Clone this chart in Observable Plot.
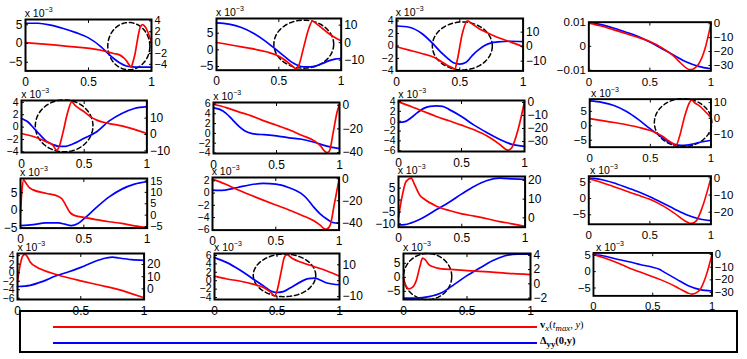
<!DOCTYPE html>
<html><head><meta charset="utf-8">
<script src="https://cdn.jsdelivr.net/npm/d3@7"></script>
<script src="https://cdn.jsdelivr.net/npm/@observablehq/plot@0.6"></script>
<style>
body{margin:0;background:#fff;}
#wrap{position:relative;width:747px;height:359px;overflow:hidden;background:#fff;font-family:"Liberation Sans",Arial,sans-serif;}
.fig{position:absolute;}
.exp{position:absolute;font-size:10.5px;line-height:1;white-space:nowrap;color:#000;}
.exp sup{font-size:7px;vertical-align:5px;}
#legend{position:absolute;left:19px;top:310px;width:715px;height:39px;border:2px solid #000;font-family:"Liberation Serif","Times New Roman",serif;font-size:10.5px;}
.sw{position:absolute;height:2px;}
.lt{position:absolute;line-height:1;white-space:nowrap;}
</style></head>
<body><div id="wrap"><div id="legend"></div></div>
<script>
// ---- data (blue: left axis, ×10^-3 ; red: right axis) ----
const blueX = [
 [0,0.1,0.2,0.3,0.4,0.5,0.6,0.65,0.7,0.75,0.8,0.85,0.9,1],
 [0,0.1,0.2,0.3,0.4,0.5,0.55,0.6,0.65,0.7,0.75,0.8,0.85,0.9,0.95,1],
 [0,0.1,0.2,0.3,0.35,0.4,0.45,0.5,0.55,0.6,0.65,0.7,0.75,0.8,0.9,1],
 [0,0.1,0.2,0.3,0.4,0.5,0.6,0.7,0.8,0.9,1],
 [0,0.05,0.1,0.15,0.2,0.25,0.3,0.35,0.4,0.5,0.6,0.7,0.8,0.9,1],
 [0,0.05,0.1,0.15,0.2,0.25,0.3,0.35,0.4,0.5,0.6,0.7,0.8,0.9,1],
 [0,0.05,0.1,0.15,0.2,0.25,0.3,0.35,0.4,0.5,0.6,0.7,0.8,0.9,1],
 [0,0.1,0.2,0.3,0.4,0.5,0.55,0.6,0.65,0.7,0.75,0.8,0.85,0.9,1],
 [0,0.1,0.2,0.3,0.35,0.4,0.45,0.5,0.6,0.7,0.8,0.9,1],
 [0,0.05,0.1,0.2,0.3,0.4,0.5,0.6,0.7,0.75,0.8,0.85,0.9,0.95,1],
 [0,0.05,0.1,0.2,0.3,0.4,0.5,0.6,0.7,0.8,0.9,1],
 [0,0.1,0.2,0.3,0.4,0.5,0.6,0.7,0.8,0.9,1],
 [0,0.1,0.2,0.3,0.4,0.5,0.6,0.7,0.75,0.8,0.9,1],
 [0,0.1,0.2,0.3,0.4,0.45,0.5,0.55,0.6,0.7,0.75,0.8,0.85,0.9,1],
 [0,0.1,0.2,0.3,0.4,0.5,0.6,0.7,0.8,0.9,1],
 [0,0.1,0.2,0.3,0.4,0.5,0.55,0.6,0.7,0.8,0.9,1]
];
const blueV = [
 [5.4,5.4,4.9,4.0,2.9,1.5,-0.9,-2.5,-4.0,-5.2,-6.0,-6.25,-6.3,-6.3],
 [8.1,7.7,6.7,4.9,2.4,-0.6,-2.1,-3.6,-4.6,-5.1,-5.1,-4.8,-4.1,-3.3,-2.8,-2.6],
 [3.2,3.0,2.0,0.1,-1.0,-1.9,-2.7,-2.9,-2.6,-1.5,-0.6,0.1,0.5,0.64,0.75,0.7],
 [9.9,9.1,7.7,6.0,4.2,1.8,-1.0,-3.8,-6.6,-8.4,-9.4],
 [1.4,0.86,-0.2,-1.3,-2.3,-2.8,-3.1,-3.1,-2.8,-1.8,-0.75,1.0,2.2,3.0,3.3],
 [5.2,4.9,4.1,2.8,1.5,0.5,0,-0.2,-0.25,-0.5,-0.9,-1.2,-1.8,-2.6,-3.1],
 [-0.27,-0.1,0.7,1.75,2.6,3.0,3.1,3.0,2.4,0.95,-0.8,-2.3,-3.65,-4.7,-5.1],
 [8.6,8.1,7.0,5.0,2.2,-1.1,-2.6,-4.2,-5.6,-6.4,-6.8,-6.7,-6.3,-5.8,-5.0],
 [-4.3,-4.0,-3.55,-3.55,-3.9,-4.3,-3.8,-2.4,0.85,3.8,6.0,7.4,8.1],
 [0.5,0.43,0.5,0.92,1.36,1.58,1.47,0.92,-0.05,-1.0,-2.3,-3.4,-4.2,-4.8,-4.95],
 [-10.4,-10.3,-9.6,-7.2,-4.0,-0.9,2.6,5.85,8.2,9.2,8.9,8.65],
 [6.2,5.8,4.8,3.5,2.1,0.5,-1.3,-3.2,-5.0,-6.2,-6.8],
 [-3.25,-2.97,-2.04,-0.78,0.15,1.24,2.51,3.44,3.66,3.44,3.06,2.9],
 [5.5,4.3,2.6,0.6,-1.4,-2.45,-2.8,-2.6,-1.8,-0.1,0.5,0.6,0.1,-0.55,-0.96],
 [-7.4,-7.4,-6.9,-5.5,-2.5,0.6,3.3,5.9,7.7,8.3,8.3],
 [5.2,4.7,3.8,3.0,2.1,1.3,0.8,-0.25,-2.3,-4.3,-5.5,-5.9]
];
const redX = [
 [0,0.3,0.6,0.65,0.7,0.75,0.78,0.8,0.82,0.84,0.85,0.87,0.89,0.91,0.93,0.95,0.97,1],
 [0,0.2,0.4,0.5,0.55,0.6,0.64,0.66,0.7,0.74,0.77,0.8,0.85,0.9,0.95,1],
 [0,0.1,0.2,0.3,0.35,0.4,0.45,0.46,0.48,0.52,0.56,0.6,0.65,0.7,0.8,0.9,1],
 [0,0.1,0.2,0.3,0.4,0.5,0.6,0.7,0.75,0.8,0.83,0.86,0.9,0.95,1],
 [0,0.1,0.2,0.25,0.28,0.3,0.33,0.37,0.4,0.43,0.5,0.55,0.6,0.7,0.8,0.9,1],
 [0,0.1,0.2,0.3,0.4,0.5,0.6,0.7,0.8,0.85,0.88,0.9,0.92,0.95,0.98,1],
 [0,0.1,0.2,0.3,0.4,0.5,0.6,0.7,0.8,0.85,0.87,0.9,0.95,1],
 [0,0.2,0.4,0.5,0.55,0.6,0.65,0.7,0.71,0.74,0.78,0.82,0.84,0.87,0.9,0.95,1],
 [0,0.01,0.025,0.04,0.07,0.1,0.2,0.3,0.33,0.36,0.39,0.42,0.5,0.6,0.7,0.8,0.9,1],
 [0,0.1,0.2,0.3,0.4,0.5,0.6,0.7,0.8,0.85,0.88,0.9,0.93,0.96,1],
 [0,0.03,0.06,0.1,0.13,0.17,0.2,0.3,0.4,0.5,0.6,0.7,0.8,0.9,1],
 [0,0.1,0.2,0.3,0.4,0.5,0.6,0.7,0.8,0.84,0.88,0.93,1],
 [0,0.02,0.04,0.06,0.08,0.1,0.15,0.2,0.3,0.4,0.5,0.6,0.7,0.8,0.9,1],
 [0,0.1,0.2,0.3,0.4,0.45,0.48,0.5,0.53,0.56,0.58,0.62,0.7,0.8,0.9,1],
 [0,0.02,0.04,0.07,0.1,0.13,0.15,0.17,0.2,0.25,0.3,0.4,0.5,0.6,0.7,0.8,0.9,1],
 [0,0.1,0.2,0.3,0.4,0.5,0.6,0.7,0.75,0.8,0.83,0.87,0.9,0.95,1]
];
const redV = [
 [0,-0.6,-1.4,-1.7,-2.0,-2.3,-2.8,-3.3,-4.0,-4.5,-3.8,-2.0,0.7,2.8,3.3,2.9,2.0,0],
 [0.1,-2.4,-5.2,-7.7,-10,-12.9,-14.8,-12.9,-2.4,8.1,12.3,10.9,8.1,5.2,3.0,1.0],
 [-0.1,-2.4,-4.7,-7.5,-10,-12.8,-15,-15.7,-9.3,9.1,17.8,15.5,12.5,10.2,6.3,3.3,-0.1],
 [0.5,-1.6,-4.2,-6.9,-9.7,-12.7,-17.3,-23.6,-28,-31.9,-33,-32.3,-28.9,-18.5,0],
 [0.6,-1.4,-4.5,-6.5,-9.6,-7.5,1,14,20,17.6,13.9,10.8,8.8,6.7,5.3,3.1,0.6],
 [0.8,-2,-5.6,-9,-13.2,-16.9,-20.8,-25.4,-30.1,-34.4,-38.6,-40,-38.6,-23,-6.2,0.8],
 [0.5,-3.1,-6.9,-10.8,-14.1,-17.4,-21,-25.6,-32,-35.9,-36.7,-34.6,-20.5,0.5],
 [-0.2,-2.7,-5.7,-7.8,-9.4,-11.4,-14.3,-16.9,-17.5,-11.8,0.4,9.6,11.6,9.6,8.2,4.5,0.4],
 [1.2,9.9,15.5,14.3,12.1,11.1,9.6,8.2,7.0,4.1,1.2,0,-1,-2,-2.9,-3.65,-4.7,-5.4],
 [-0.3,-4.8,-10,-14.8,-19.4,-23.9,-28.2,-33,-38.2,-42.1,-45.2,-45.8,-42.1,-24.5,-0.3],
 [0.36,12,19.5,21.25,17.3,12,10.2,6.25,3.9,2.1,0.9,-0.5,-2.0,-3.2,-4.6],
 [-0.5,-2.5,-5,-7.5,-10,-12.5,-16,-20.5,-25.5,-26.5,-25,-17,0],
 [5.7,19,26.8,28.3,26,22,18,15.5,12,9.1,6.6,4.2,1.85,-0.6,-3.9,-7.3],
 [2.85,1.1,-0.2,-2,-4.6,-7.3,-9.5,-6.4,4.3,15,16.4,14.1,11.4,8.8,6.1,2.85],
 [0.8,-0.3,-0.7,-0.5,0.43,2.5,3.6,3.4,2.7,2.3,2.1,2.0,1.86,1.75,1.65,1.5,1.4,1.3],
 [0,-3,-6.5,-10.6,-14.1,-17.6,-21.2,-25.6,-28.2,-30.5,-31.2,-30,-27.6,-16.8,0]
];
const leftDomain = [[-7.3,6.4],[-6.1,9.4],[-4.0,4.4],[-10.3,10.1],[-4.1,4.3],[-4.1,6.3],[-6.15,4.2],[-7.4,9.2],
 [-5,9],[-6.05,2.55],[-11.4,9.9],[-7.9,6.8],[-6.3,4.5],[-4.47,6.47],[-7.9,8.5],[-7.4,5.7]];
const rightDomain = [[-5.2,4.25],[-15.7,13.8],[-16.7,19.4],[-33.9,1.15],[-11,20.8],[-40.8,2.3],[-37.7,1.5],[-18.4,12.2],
 [-5.7,16.1],[-46.7,1.2],[-5,22.1],[-27,1],[-8.7,29],[-11.8,17.1],[-2.2,4.26],[-32.6,1.2]];
const leftTicks = [[-5,0,5],[-5,0,5],[-4,-2,0,2,4],[-10,0,10],[-4,-2,0,2,4],[-4,-2,0,2,4,6],[-6,-4,-2,0,2,4],[-5,0,5],
 [-5,0,5],[-6,-4,-2,0,2],[-10,-5,0,5],[-5,0,5],[-6,-4,-2,0,2,4],[-4,-2,0,2,4,6],[-5,0,5],[-5,0,5]];
const rightTicks = [[-4,-2,0,2,4],[-10,0,10],[-10,0,10],[-30,-20,-10,0],[-10,0,10],[-40,-20,0],[-30,-20,-10,0],[-10,0,10],
 [-5,0,5,10,15],[-40,-20,0],[0,10,20],[-20,-10,0],[0,10,20],[-10,0,10],[-2,0,2,4],[-30,-20,-10,0]];
const xTicks = [0, 0.5, 1];
const xTickLabels = ["0", "0.5", "1"];
// panel 3 left axis is in plain units
const plainLeftPanel = 3;
const plainLeftLabels = ["\u22120.01", "0", "0.01"];
// dashed circles (panel, centre x, centre y in left units, radius x, radius y in left units)
const circlePanel = [0,1,2,4,7,13,14];
const circleX = [0.82,0.70,0.52,0.34,0.77,0.56,0.19];
const circleY = [-0.7,1.7,0,0.2,1.1,1.27,0.3];
const circleRX = [0.167,0.24,0.237,0.23,0.237,0.25,0.19];
const circleRY = [6.3,7.2,3.84,4.2,8.3,5.07,8.2];
const legendLabels = ['<b>v</b><sub><i>x</i></sub>(<i>t</i><sub><i>max</i></sub>, <i>y</i>)',
                      '<b>\u0394</b><sub><b>yy</b></sub><b>(0,y)</b>'];
const legendColors = ["#ff0000", "#0000ff"];

// ---- layout: frame box of each panel [x, y, w, h] in px ----
const frames = [
 [24.7,19.3,126,51.4],[216,18.3,124.7,51.7],[395.7,18.3,126.6,52.4],[590,21.7,126.7,50.6],
 [21.3,100.3,125.4,52],[213.3,101.7,126,51],[398.3,99.7,126,51],[591,99,126.3,50],
 [20,177.7,126.7,49.6],[211.7,176.7,126.6,52.6],[397.7,176,126.6,50.7],[590,176,127,50],
 [17.4,253,126.6,46],[214,253,125,46],[403,253,127,46],[596,253,127,46]
];

const fmt = v => v < 0 ? "\u2212" + (-v) : String(v);
const wrap = document.getElementById("wrap");
const mL = 45, mR = 38, mT = 8, mB = 24;

for (let i = 0; i < 16; i++) {
  const [fx, fy, fw, fh] = frames[i];
  const L = leftDomain[i], R = rightDomain[i];
  const toL = v => L[0] + (v - R[0]) * (L[1] - L[0]) / (R[1] - R[0]);
  const blue = blueX[i].map((x, k) => ({x, y: blueV[i][k]}));
  const red = redX[i].map((x, k) => ({x, y: toL(redV[i][k])}));
  const rt = rightTicks[i].map(toL);
  const rLab = new Map(rt.map((t, k) => [t.toFixed(5), fmt(rightTicks[i][k])]));
  const lLab = new Map(leftTicks[i].map((t, k) => [t.toFixed(5), i === plainLeftPanel ? plainLeftLabels[k] : fmt(t)]));
  const xLab = new Map(xTicks.map((t, k) => [t.toFixed(5), xTickLabels[k]]));
  // crowded left axes use a slightly smaller type
  const lfs = leftTicks[i].length >= 5 ? 10.5 : 12;
  const rfs = rightTicks[i].length >= 5 ? 11 : 12;
  const marks = [];
  circlePanel.forEach((p, c) => {
    if (p !== i) return;
    const pts = d3.range(0, 73).map(k => {
      const a = k / 72 * 2 * Math.PI;
      return {x: circleX[c] + circleRX[c] * Math.cos(a), y: circleY[c] + circleRY[c] * Math.sin(a)};
    });
    marks.push(Plot.line(pts, {x: "x", y: "y", stroke: "black", strokeWidth: 1.5, strokeDasharray: "4.5,3"}));
  });
  marks.push(
    Plot.line(blue, {x: "x", y: "y", stroke: "#0000ff", strokeWidth: 1.7, curve: "monotone-x"}),
    Plot.line(red, {x: "x", y: "y", stroke: "#ff0000", strokeWidth: 1.7, curve: "monotone-x"}),
    Plot.axisX(xTicks, {anchor: "bottom", tickSize: -3, tickPadding: 9.6, label: null, tickFormat: d => xLab.get(d.toFixed(5))}),
    Plot.axisX(xTicks, {anchor: "top", tickSize: -3, fill: "none", label: null}),
    Plot.axisY(leftTicks[i], {anchor: "left", tickSize: -3, tickPadding: 6, label: null, fontSize: lfs, tickFormat: d => lLab.get(d.toFixed(5))}),
    Plot.axisY(rt, {anchor: "right", tickSize: -3, tickPadding: 6, label: null, fontSize: rfs, tickFormat: d => rLab.get(d.toFixed(5))}),
    Plot.frame({stroke: "black", strokeWidth: 2})
  );
  const chart = Plot.plot({
    width: fw + mL + mR, height: fh + mT + mB,
    marginLeft: mL, marginRight: mR, marginTop: mT, marginBottom: mB,
    x: {domain: [0, 1], label: null},
    y: {domain: L, label: null},
    style: {background: "none", overflow: "visible", fontFamily: "'Liberation Sans', Arial, sans-serif", fontSize: "12px", color: "black"},
    marks
  });
  const div = document.createElement("div");
  div.className = "fig";
  div.style.left = (fx - mL) + "px";
  div.style.top = (fy - mT) + "px";
  div.appendChild(chart);
  wrap.appendChild(div);
  if (i !== plainLeftPanel) {
    const e = document.createElement("div");
    e.className = "exp";
    e.style.left = fx + "px";
    e.style.top = (fy - 13) + "px";
    e.innerHTML = "x 10<sup>\u22123</sup>";
    wrap.appendChild(e);
  }
}

// legend
const legend = document.getElementById("legend");
legendLabels.forEach((lab, k) => {
  const sw = document.createElement("div");
  sw.className = "sw";
  sw.style.left = "32px"; sw.style.width = "484px";
  sw.style.top = (14 + 16 * k) + "px";
  sw.style.background = legendColors[k];
  legend.appendChild(sw);
  const t = document.createElement("div");
  t.className = "lt";
  t.style.left = "519px";
  t.style.top = (8 + 16 * k) + "px";
  t.innerHTML = lab;
  legend.appendChild(t);
});
</script></body></html>
